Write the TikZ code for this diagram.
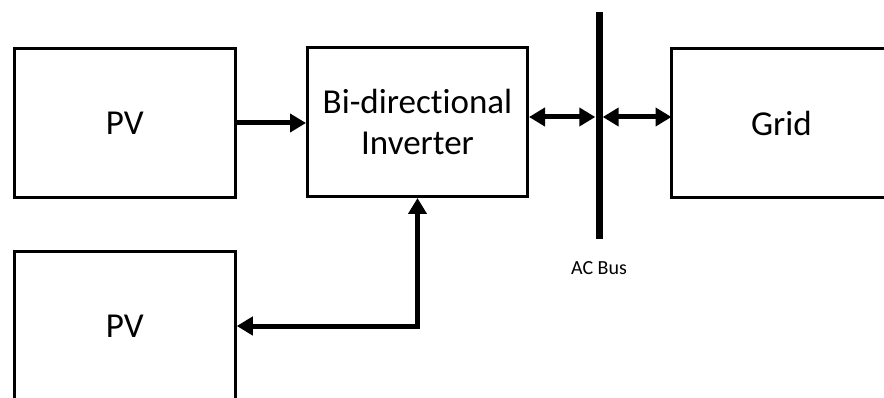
\documentclass[tikz,border=0pt]{standalone}
\usepackage{fontspec}
\setmainfont{Carlito}[RawFeature={-liga}]
\usetikzlibrary{arrows.meta}
\begin{document}
\begin{tikzpicture}[x=1pt,y=-1pt,
  blk/.style={draw=black, line width=3pt, minimum width=221pt, minimum height=149pt, inner sep=0pt, align=center, font=\fontsize{35}{41}\selectfont},
  txt/.style={font=\fontsize{35}{41}\selectfont},
  conn/.style={line width=5pt, -{Triangle[length=16pt,width=18pt]}},
  dconn/.style={line width=5pt, {Triangle[length=16pt,width=18pt]}-{Triangle[length=16pt,width=18pt]}}]
\useasboundingbox (0,0) rectangle (884,398);
\clip (0,0) rectangle (884,398);
\node[blk] (pv1) at (124.75,123) {PV};
\node[blk, minimum width=220pt] (inv) at (417.5,122) {Bi-directional\\Inverter};
\node[inner sep=0pt, outer sep=0pt, minimum width=240pt, minimum height=149pt, anchor=west] (grid) at (671.5,123) {};
\draw[line width=3pt] (grid.north east) -- (grid.north west) -- (grid.south west) -- (grid.south east);
\node[txt] (gridlbl) at (781.5,123) {Grid};
\node[blk] (pv2) at (124.75,326) {PV};
\node[fill=black, inner sep=0pt, minimum width=7pt, minimum height=227pt] (bus) at (599,125.5) {};
\node[font=\fontsize{20}{24}\selectfont] (buslbl) at (599,268) {AC Bus};
\draw[conn] (pv1.east) -- (pv1.east -| inv.west);
\coordinate (a1) at ([yshift=6pt]pv1.east -| inv.east);
\draw[dconn] (a1) -- (a1 -| bus.west);
\draw[dconn] (a1 -| bus.east) -- (a1 -| grid.west);
\draw[dconn] (inv.south) |- (pv2.east);
\end{tikzpicture}
\end{document}
